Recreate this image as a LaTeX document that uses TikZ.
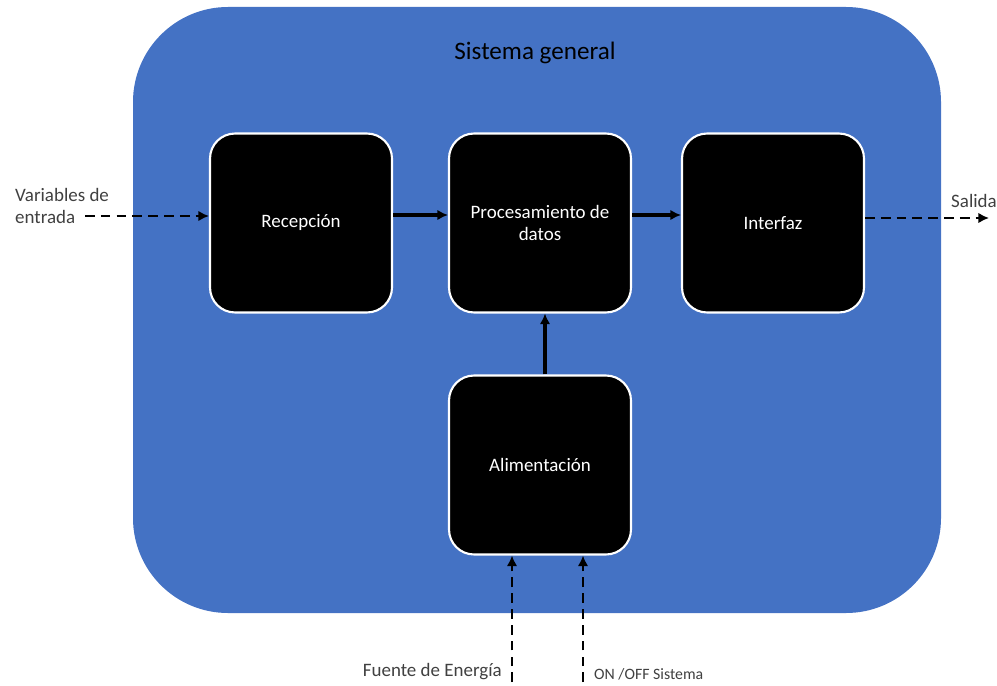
\documentclass[tikz,border=0pt]{standalone}
\usepackage{fontspec}
\setmainfont{Carlito}
\usetikzlibrary{arrows.meta}
\definecolor{sysblue}{RGB}{68,114,196}
\definecolor{labelgray}{RGB}{64,64,64}
\tikzset{
  block/.style={draw=white, line width=1.2pt, fill=black, rounded corners=0.5cm,
    minimum width=3.64cm, minimum height=3.58cm, text=white, align=center,
    font=\fontsize{10.8}{13}\selectfont},
  flow/.style={line width=2pt, draw=black, -{Latex[length=6pt,width=6pt]}},
  dflow/.style={flow, line width=1.6pt, dash pattern=on 5.5pt off 3.5pt},
  ext/.style={text=labelgray, font=\fontsize{10.8}{12.5}\selectfont}
}
\begin{document}
\begin{tikzpicture}[x=0.02cm, y=-0.02cm]
\useasboundingbox (0,0) rectangle (997,686);
% General system frame
\fill[sysblue, rounded corners=1.9cm] (133,7) rectangle (941,613);
\node (title) at (535,53) {\fontsize{14.3}{17}\selectfont Sistema general};

% Blocks
\node[block] (rec) at (301,223) {Recepción};
\node[block] (proc) at (540,223) {Procesamiento de\\datos};
\node[block] (int) at (773,223) {Interfaz};
\node[block] (ali) at (540,465) {Alimentación};

% Internal connections
\draw[flow] ([yshift=0.16cm]rec.east) -- ([yshift=0.16cm]proc.west);
\draw[flow] ([yshift=0.16cm]proc.east) -- ([yshift=0.16cm]int.west);
\draw[flow] ([xshift=0.1cm]ali.north) -- ([xshift=0.1cm]proc.south);

% Inputs and output
\node[ext, anchor=west, align=left] (vin) at (9,206) {Variables de\\entrada};
\coordinate (vin0) at (85,216);
\draw[dflow] (vin0) -- (rec.west |- vin0);
\coordinate (sal) at (989,218);
\draw[dflow] (int.east |- sal) -- (sal);
\node[ext, anchor=south] (saltxt) at (974,214) {Salida};

\coordinate (fe) at (512,682);
\coordinate (on) at (583,682);
\draw[dflow] (fe) -- (fe |- ali.south);
\draw[dflow] (on) -- (on |- ali.south);
\node[ext, anchor=south east] (fetxt) at (508,686) {Fuente de Energía};
\node[ext, anchor=south west, font=\fontsize{9}{11}\selectfont] (ontxt) at (588,686) {ON /OFF Sistema};
\end{tikzpicture}
\end{document}
